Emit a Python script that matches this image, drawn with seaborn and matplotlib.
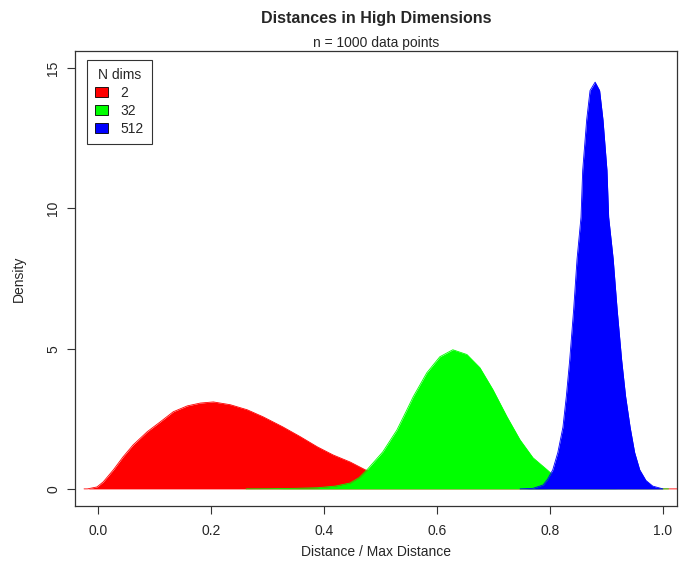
import numpy as np
import pandas as pd
import matplotlib
matplotlib.use("Agg")
import matplotlib.pyplot as plt
import seaborn as sns
from matplotlib.patches import Patch

# density curves (x = distance / max distance, y = density)
dims = ["2", "32", "512"]
colors = ["#FF0000", "#00FF00", "#0000FF"]

x_2 = [-0.025, -0.019, -0.002, 0.009, 0.027, 0.044, 0.062, 0.087, 0.110, 0.133, 0.158, 0.181, 0.204,
       0.234, 0.264, 0.292, 0.327, 0.358, 0.388, 0.416, 0.446, 0.473, 0.5, 0.55, 0.6, 0.65, 0.7,
       0.8, 0.9, 1.025]
y_2 = [0.0, 0.0, 0.07, 0.25, 0.68, 1.14, 1.57, 2.04, 2.39, 2.75, 2.96, 3.06, 3.10,
       3.0, 2.82, 2.57, 2.21, 1.86, 1.5, 1.21, 0.96, 0.68, 0.5, 0.3, 0.17, 0.09, 0.04,
       0.01, 0.003, 0.0]

x_32 = [0.262, 0.3, 0.35, 0.388, 0.42, 0.446, 0.462, 0.476, 0.504, 0.529, 0.545, 0.558, 0.582,
        0.605, 0.628, 0.653, 0.676, 0.699, 0.724, 0.747, 0.770, 0.795, 0.809, 0.83, 0.85, 0.88,
        0.92, 1.01]
y_32 = [0.0, 0.005, 0.02, 0.04, 0.1, 0.21, 0.4, 0.68, 1.32, 2.1, 2.75, 3.29, 4.14,
        4.71, 4.96, 4.79, 4.32, 3.54, 2.57, 1.75, 1.11, 0.68, 0.43, 0.2, 0.1, 0.04,
        0.01, 0.0]

x_512 = [0.747, 0.77, 0.788, 0.796, 0.805, 0.814, 0.823, 0.829, 0.835, 0.842, 0.848, 0.855, 0.858,
         0.865, 0.871, 0.880, 0.888, 0.894, 0.901, 0.904, 0.912, 0.919, 0.927, 0.934, 0.942, 0.95,
         0.959, 0.97, 0.982, 1.0]
y_512 = [0.0, 0.02, 0.14, 0.35, 0.68, 1.3, 2.2, 3.3, 4.6, 6.4, 8.2, 9.69, 11.36,
         13.15, 14.2, 14.5, 14.2, 13.15, 11.36, 9.69, 8.2, 6.4, 4.6, 3.3, 2.2, 1.3,
         0.68, 0.3, 0.1, 0.0]

curves = [(x_2, y_2), (x_32, y_32), (x_512, y_512)]

sns.set_style("ticks")
plt.rcParams["font.family"] = ["Liberation Sans", "DejaVu Sans"]

fig = plt.figure(figsize=(6.79, 5.70), dpi=100)
ax = fig.add_axes([75 / 679, 64 / 570, 602 / 679, 455 / 570])

for i, (d, c, (xs, ys)) in enumerate(zip(dims, colors, curves)):
    df = pd.DataFrame({"x": xs, "y": ys})
    sns.lineplot(data=df, x="x", y="y", color=c, lw=0.6, ax=ax, sort=False, zorder=3 + 2 * i)
    ax.fill_between(df["x"], df["y"], 0, color=c, lw=0, zorder=3 + 2 * i)

ax.set_xlim(-0.041, 1.025)
ax.set_ylim(-0.61, 15.61)
ax.set_xticks([0.0, 0.2, 0.4, 0.6, 0.8, 1.0])
ax.set_yticks([0, 5, 10, 15])
ax.set_xticklabels(["0.0", "0.2", "0.4", "0.6", "0.8", "1.0"])
ax.set_yticklabels(["0", "5", "10", "15"], rotation=90, va="center")
ax.tick_params(axis="both", length=6, width=0.8, color="#333333", labelsize=10)
ax.tick_params(axis="x", pad=7)
ax.tick_params(axis="y", pad=4.5)
for s in ax.spines.values():
    s.set_visible(True)
    s.set_linewidth(0.9)
    s.set_color("#333333")

ax.set_xlabel("Distance / Max Distance", fontsize=10, labelpad=5)
ax.set_ylabel("Density", fontsize=10, labelpad=15)
fig.text(376 / 679, 1 - 18 / 570, "Distances in High Dimensions", ha="center", va="center",
         fontsize=11.5, fontweight="bold")
fig.text(376 / 679, 1 - 43 / 570, "n = 1000 data points", ha="center", va="center", fontsize=10)

handles = [Patch(facecolor=c, edgecolor="black", lw=0.6) for c in colors]
leg = ax.legend(handles, dims, title="N dims", loc="upper left", bbox_to_anchor=(0.02, 0.981),
                frameon=True, fancybox=False, fontsize=10, title_fontsize=10,
                handlelength=0.9, handleheight=0.7, handletextpad=0.9, labelspacing=0.28,
                borderpad=0.6, borderaxespad=0)
leg.get_frame().set_edgecolor("black")
leg.get_frame().set_linewidth(0.8)
leg.set_zorder(20)

fig.savefig("out.png", dpi=100)
